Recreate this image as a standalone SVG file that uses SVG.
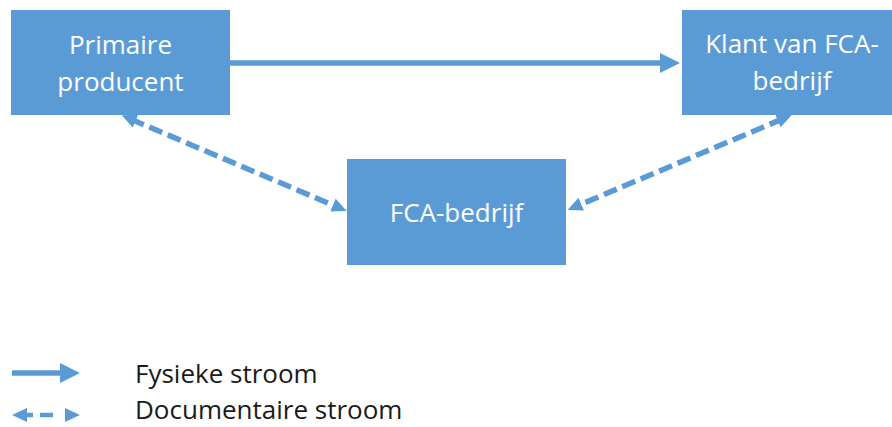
<svg xmlns="http://www.w3.org/2000/svg" width="892" height="427" viewBox="0 0 892 427">
  <style>
    .box { fill: #5B9BD5; }
    .nt { font-family: "Open Sans", "Liberation Sans", sans-serif; font-size: 26px; fill: #ffffff; text-anchor: middle; }
    .lt { font-family: "Open Sans", "Liberation Sans", sans-serif; font-size: 26px; fill: #1a1a1a; }
    .solid { stroke: #5B9BD5; stroke-width: 5.5; fill: none; }
    .dash { stroke: #5B9BD5; stroke-width: 5.5; fill: none; stroke-dasharray: 14 6; }
  </style>
  <defs>
    <marker id="headSolid" viewBox="0 0 20 20" markerWidth="20" markerHeight="20" refX="10" refY="10" orient="auto" markerUnits="userSpaceOnUse">
      <path d="M0,0 L20,10 L0,20 z" fill="#5B9BD5"/>
    </marker>
    <marker id="headDash" viewBox="0 0 15 14" markerWidth="15" markerHeight="14" refX="5" refY="7" orient="auto-start-reverse" markerUnits="userSpaceOnUse">
      <path d="M0,0 L15,7 L0,14 z" fill="#5B9BD5"/>
    </marker>
  </defs>

  <g id="node-primaire-producent">
    <rect class="box" x="11" y="10" width="219" height="105"/>
    <text class="nt" x="120.5" y="53.5">Primaire</text>
    <text class="nt" x="120.5" y="90.5">producent</text>
  </g>

  <g id="node-klant">
    <rect class="box" x="682" y="10" width="210" height="105"/>
    <text class="nt" x="792" y="52.5">Klant van FCA-</text>
    <text class="nt" x="792" y="90">bedrijf</text>
  </g>

  <g id="node-fca-bedrijf">
    <rect class="box" x="347" y="159" width="219" height="106"/>
    <text class="nt" x="456.5" y="222">FCA-bedrijf</text>
  </g>

  <g id="connectors">
    <path class="solid" d="M230,63 L670,63" marker-end="url(#headSolid)"/>
    <path class="dash" d="M130.9,119.2 L337.5,207.1" marker-start="url(#headDash)" marker-end="url(#headDash)"/>
    <path class="dash" d="M782.5,118.9 L576.7,206.1" marker-start="url(#headDash)" marker-end="url(#headDash)"/>
  </g>

  <g id="legend">
    <path class="solid" d="M12,373 L70,373" marker-end="url(#headSolid)"/>
    <path class="dash" d="M22,415 L70,415" style="stroke-dasharray: 11 7 13 100; stroke-width: 4.5" marker-start="url(#headDash)" marker-end="url(#headDash)"/>
    <text class="lt" x="135" y="383">Fysieke stroom</text>
    <text class="lt" x="135" y="419">Documentaire stroom</text>
  </g>
</svg>
